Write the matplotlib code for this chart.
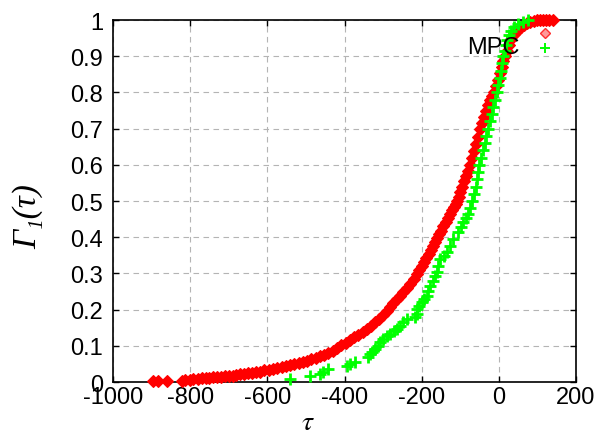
import matplotlib
matplotlib.use("Agg")
import matplotlib.pyplot as plt
from matplotlib.lines import Line2D

plt.rcParams['font.family'] = ['Liberation Sans', 'DejaVu Sans']
plt.rcParams['mathtext.fontset'] = 'stix'

# red series (diamonds): tau, cumulative fraction
red_tau = [-896, -884, -860, -820, -813, -800, -793, -780,
           -770, -760, -750, -740, -730, -720, -710, -700, -690, -680,
           -671, -660, -650, -640, -630, -620, -608, -597, -585, -574,
           -563, -552, -541, -530, -519, -508, -497, -486, -475, -464,
           -453, -442, -430, -419, -408, -397, -386, -375, -364, -353,
           -342, -332, -321, -311, -300, -291, -282, -274, -265, -256,
           -248, -239, -230, -221, -212, -206, -200, -194, -188, -182,
           -176, -171, -165, -160, -155, -150, -144, -138, -133, -127,
           -122, -117, -112, -108, -104, -100, -95, -90, -85, -80,
           -75, -70, -65, -60, -55, -49, -44, -38, -33, -27,
           -22, -17, -12, -7, -2, 3, 8, 12, 16, 21,
           26, 30, 35, 40, 45, 50, 58, 66, 74, 82,
           90, 98, 106, 114, 122, 131, 140]
red_F = [0.002, 0.002, 0.003, 0.004, 0.005, 0.006, 0.007, 0.008,
         0.010, 0.011, 0.012, 0.013, 0.014, 0.015, 0.016, 0.017, 0.018, 0.020,
         0.021, 0.023, 0.024, 0.026, 0.027, 0.029, 0.032, 0.034, 0.037, 0.039,
         0.041, 0.044, 0.046, 0.049, 0.052, 0.055, 0.059, 0.063, 0.067, 0.071,
         0.076, 0.081, 0.087, 0.094, 0.101, 0.108, 0.115, 0.123, 0.131, 0.138,
         0.146, 0.155, 0.165, 0.175, 0.186, 0.196, 0.207, 0.217, 0.228, 0.238,
         0.249, 0.260, 0.272, 0.285, 0.298, 0.309, 0.320, 0.331, 0.342, 0.353,
         0.364, 0.375, 0.387, 0.398, 0.409, 0.418, 0.430, 0.441, 0.452, 0.464,
         0.474, 0.484, 0.493, 0.500, 0.512, 0.524, 0.539, 0.554, 0.569, 0.584,
         0.600, 0.619, 0.638, 0.657, 0.677, 0.700, 0.715, 0.732, 0.748, 0.764,
         0.780, 0.790, 0.800, 0.818, 0.835, 0.853, 0.870, 0.888, 0.900, 0.915,
         0.930, 0.945, 0.955, 0.962, 0.968, 0.972, 0.980, 0.986, 0.991, 0.995,
         0.997, 0.999, 1.0, 1.0, 1.0, 1.0, 1.0]

# green series (plus signs), "MPC"
green_tau = [-541, -489, -463, -455, -442, -394, -386, -373, -338, -334,
             -329, -320, -312, -308, -299, -290, -282, -273, -265, -256,
             -248, -239, -217, -213, -213, -206, -200, -193, -187, -183,
             -178, -170, -165, -161, -157, -152, -143, -135, -126, -118,
             -105, -98, -92, -86, -80, -75, -69, -65, -60, -56,
             -53, -51, -47, -42, -37, -33, -28, -24, -19, -14,
             -10, -5, -1, 3, 6, 9, 12, 15, 19, 22,
             26, 32, 40, 50, 62, 76]
green_F = [0.008, 0.017, 0.022, 0.028, 0.036, 0.045, 0.050, 0.054, 0.068, 0.077,
           0.082, 0.092, 0.100, 0.110, 0.119, 0.126, 0.133, 0.140, 0.146, 0.156,
           0.165, 0.174, 0.179, 0.188, 0.202, 0.211, 0.220, 0.229, 0.238, 0.252,
           0.266, 0.280, 0.292, 0.303, 0.321, 0.340, 0.349, 0.358, 0.377, 0.395,
           0.414, 0.428, 0.441, 0.452, 0.464, 0.482, 0.500, 0.520, 0.540, 0.560,
           0.580, 0.600, 0.620, 0.640, 0.660, 0.680, 0.700, 0.720, 0.740, 0.760,
           0.780, 0.800, 0.820, 0.840, 0.860, 0.880, 0.900, 0.915, 0.930, 0.945,
           0.958, 0.970, 0.980, 0.988, 0.994, 1.0]

x_ticks = [-1000, -800, -600, -400, -200, 0, 200]
y_ticks = [0, 0.1, 0.2, 0.3, 0.4, 0.5, 0.6, 0.7, 0.8, 0.9, 1]
y_ticklabels = ["0", "0.1", "0.2", "0.3", "0.4", "0.5", "0.6", "0.7", "0.8", "0.9", "1"]

fig = plt.figure(figsize=(5.99, 4.35), dpi=100)
ax = fig.add_axes([0.1887, 0.1195, 0.7729, 0.8322])

ax.plot(red_tau, red_F, linestyle='none', marker='D', markersize=6.5,
        color='#ff0000', markeredgewidth=0.8, clip_on=False, zorder=3)
ax.plot(green_tau, green_F, linestyle='none', marker='+', markersize=8,
        markeredgewidth=2.0, color='#00ff00', clip_on=False, zorder=4)

ax.set_xlim(-1000, 200)
ax.set_ylim(0, 1)
ax.set_xticks(x_ticks)
ax.set_xticklabels([str(t) for t in x_ticks])
ax.set_yticks(y_ticks)
ax.set_yticklabels(y_ticklabels)
ax.tick_params(direction='in', length=4, width=1, top=True, right=True,
               labelsize=17)
ax.tick_params(axis='x', pad=3)
ax.tick_params(axis='y', pad=7)
ax.grid(True, linestyle=(0, (5, 4)), color='#b4b4b4', linewidth=0.8)
ax.set_axisbelow(True)
for s in ax.spines.values():
    s.set_linewidth(1.2)

ax.set_xlabel(r'$\tau$', fontsize=20)
ax.xaxis.set_label_coords(0.42, -0.075)
ax.set_ylabel('Γ₁(τ)', fontsize=24, fontstyle='italic',
              family=['Liberation Serif', 'DejaVu Serif'])
ax.yaxis.set_label_coords(-0.15, 0.46)

# legend: markers only, label text placed next to them
h_red = Line2D([], [], linestyle='none', marker='D', markersize=5,
               markerfacecolor='#ff9a9a', markeredgecolor='#ff3030')
h_green = Line2D([], [], linestyle='none', marker='+', markersize=7,
                 markeredgewidth=1.4, color='#00ff00')
ax.legend([h_red, h_green], ['', ''], loc='center', frameon=False,
          bbox_to_anchor=(0.933, 0.94), fontsize=8, labelspacing=0.45,
          handlelength=1, handletextpad=0, borderpad=0, borderaxespad=0)
ax.text(0.879, 0.925, 'MPC', transform=ax.transAxes, fontsize=17,
        ha='right', va='center', zorder=5)

fig.savefig("out.png", dpi=100)
